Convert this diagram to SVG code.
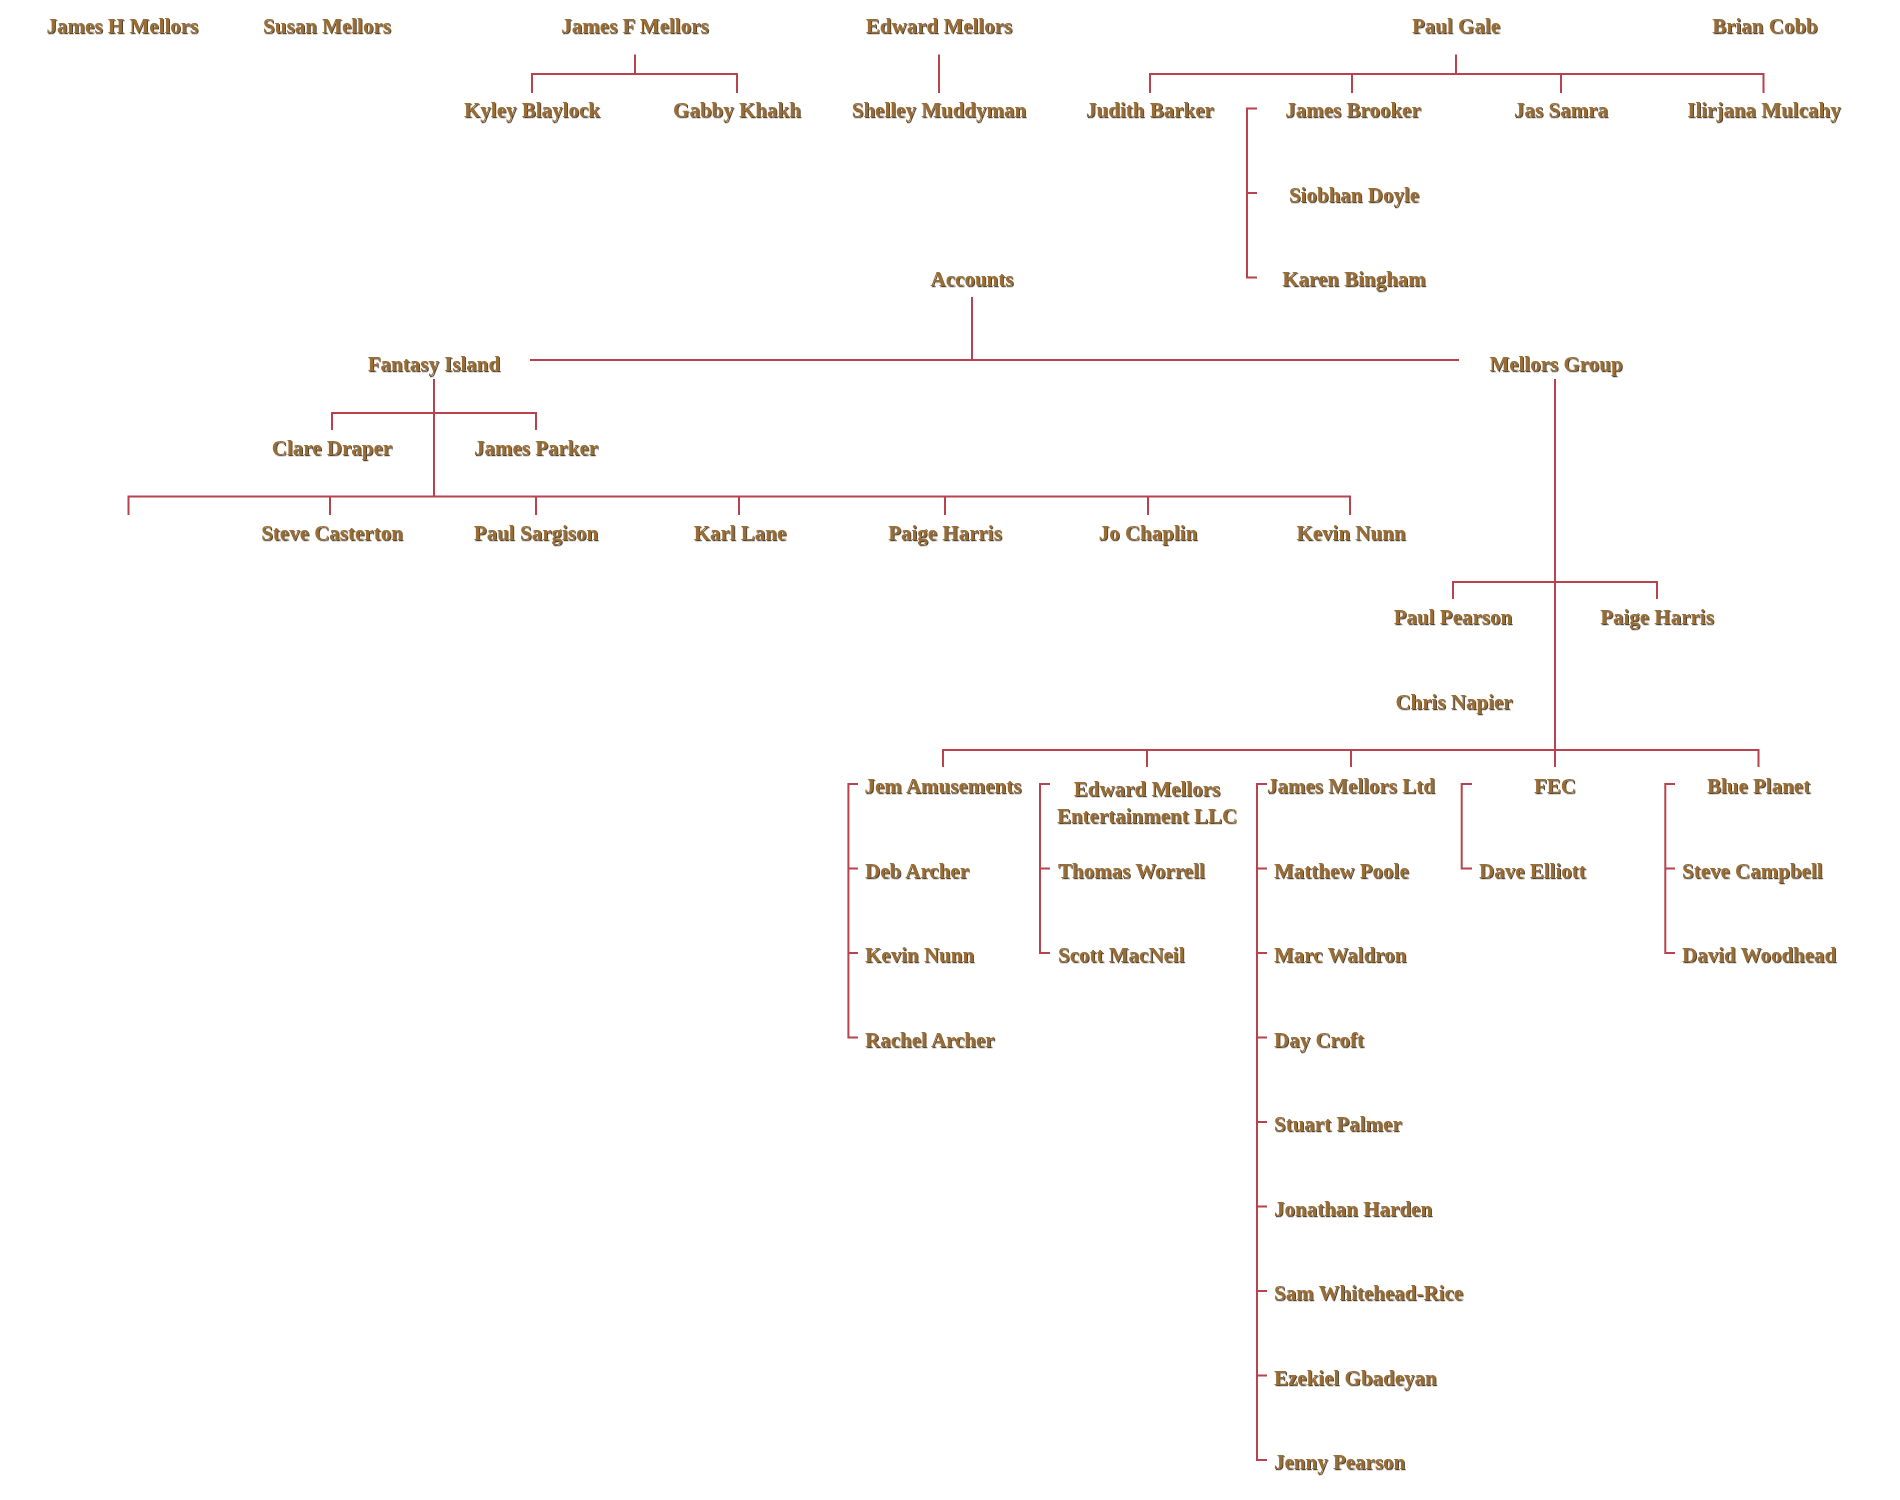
<svg xmlns="http://www.w3.org/2000/svg" width="1900" height="1500" viewBox="0 0 1900 1500">
<style>
.t{font-family:"Liberation Serif","Times New Roman",serif;font-weight:bold;font-size:21px;fill:#9a6d36;filter:url(#sh);text-anchor:middle}
.s{text-anchor:start}
.l{fill:none;stroke:#b8434e;stroke-width:2}
</style>
<defs>
<filter id="sh" x="-5%" y="-20%" width="110%" height="140%">
<feDropShadow dx="1" dy="1.2" stdDeviation="0.4" flood-color="#2b1c0a" flood-opacity="0.85"/>
</filter>
</defs>
<rect width="1900" height="1500" fill="#ffffff"/>
<g id="connectors" class="l">
<path d="M635 54.5V74M532 93V74H737V93"/>
<path d="M939 54.5V93"/>
<path d="M1456 54.5V74M1150 93V74H1763.5V93M1352 74V93M1561 74V93"/>
<path d="M1257 108.5H1247V277.5H1257M1247 193H1257"/>
<path d="M972 297V360M530 360H1459"/>
<path d="M434 379V496.5M332 430V413H536V430"/>
<path d="M128.5 515V496.5H1350V515M330 496.5V515M536 496.5V515M739 496.5V515M945 496.5V515M1148 496.5V515"/>
<path d="M1555 379V767M1453 599V582H1657V599"/>
<path d="M943 767V750H1758.5V767M1147 750V767M1351 750V767"/>
<path d="M858 784H848.4V1037.5H858M848.4 868.5H858M848.4 953H858"/>
<path d="M1050 784H1040V953H1050M1040 868.5H1050"/>
<path d="M1267 784H1257V1460H1267M1257 868.5H1267M1257 953H1267M1257 1037.5H1267M1257 1122H1267M1257 1206.5H1267M1257 1291H1267M1257 1375.5H1267"/>
<path d="M1472 784H1461.7V868.5H1472"/>
<path d="M1675 784H1665.3V953H1675M1665.3 868.5H1675"/>
</g>
<g id="n-james-h-mellors"><text class="t" x="122.4" y="32.5">James H Mellors</text></g>
<g id="n-susan-mellors"><text class="t" x="327" y="32.5">Susan Mellors</text></g>
<g id="n-james-f-mellors"><text class="t" x="635" y="32.5">James F Mellors</text></g>
<g id="n-edward-mellors"><text class="t" x="939" y="32.5">Edward Mellors</text></g>
<g id="n-paul-gale"><text class="t" x="1456" y="32.5">Paul Gale</text></g>
<g id="n-brian-cobb"><text class="t" x="1765" y="32.5">Brian Cobb</text></g>
<g id="n-kyley-blaylock"><text class="t" x="532" y="117">Kyley Blaylock</text></g>
<g id="n-gabby-khakh"><text class="t" x="737" y="117">Gabby Khakh</text></g>
<g id="n-shelley-muddyman"><text class="t" x="939" y="117">Shelley Muddyman</text></g>
<g id="n-judith-barker"><text class="t" x="1150" y="117">Judith Barker</text></g>
<g id="n-james-brooker"><text class="t" x="1353" y="117">James Brooker</text></g>
<g id="n-jas-samra"><text class="t" x="1561" y="117">Jas Samra</text></g>
<g id="n-ilirjana-mulcahy"><text class="t" x="1764" y="117">Ilirjana Mulcahy</text></g>
<g id="n-siobhan-doyle"><text class="t" x="1354" y="201.5">Siobhan Doyle</text></g>
<g id="n-karen-bingham"><text class="t" x="1354" y="286">Karen Bingham</text></g>
<g id="n-accounts"><text class="t" x="972" y="286">Accounts</text></g>
<g id="n-fantasy-island"><text class="t" x="434" y="370.5">Fantasy Island</text></g>
<g id="n-mellors-group"><text class="t" x="1556" y="370.5">Mellors Group</text></g>
<g id="n-clare-draper"><text class="t" x="332" y="455">Clare Draper</text></g>
<g id="n-james-parker"><text class="t" x="536" y="455">James Parker</text></g>
<g id="n-steve-casterton"><text class="t" x="332" y="539.5">Steve Casterton</text></g>
<g id="n-paul-sargison"><text class="t" x="536" y="539.5">Paul Sargison</text></g>
<g id="n-karl-lane"><text class="t" x="740" y="539.5">Karl Lane</text></g>
<g id="n-paige-harris-fi"><text class="t" x="945" y="539.5">Paige Harris</text></g>
<g id="n-jo-chaplin"><text class="t" x="1148" y="539.5">Jo Chaplin</text></g>
<g id="n-kevin-nunn-fi"><text class="t" x="1351" y="539.5">Kevin Nunn</text></g>
<g id="n-paul-pearson"><text class="t" x="1453" y="624">Paul Pearson</text></g>
<g id="n-paige-harris-mg"><text class="t" x="1657" y="624">Paige Harris</text></g>
<g id="n-chris-napier"><text class="t" x="1454" y="708.5">Chris Napier</text></g>
<g id="n-jem-amusements"><text class="t" x="943" y="793">Jem Amusements</text></g>
<g id="n-edward-mellors-ent"><text class="t" x="1147" y="796">Edward Mellors</text><text class="t" x="1147" y="823">Entertainment LLC</text></g>
<g id="n-james-mellors-ltd"><text class="t" x="1351" y="793">James Mellors Ltd</text></g>
<g id="n-fec"><text class="t" x="1555" y="793">FEC</text></g>
<g id="n-blue-planet"><text class="t" x="1758.5" y="793">Blue Planet</text></g>
<g id="n-deb-archer"><text class="t s" x="865" y="877.5">Deb Archer</text></g>
<g id="n-kevin-nunn-jem"><text class="t s" x="865" y="962">Kevin Nunn</text></g>
<g id="n-rachel-archer"><text class="t s" x="865" y="1046.5">Rachel Archer</text></g>
<g id="n-thomas-worrell"><text class="t s" x="1058" y="877.5">Thomas Worrell</text></g>
<g id="n-scott-macneil"><text class="t s" x="1058" y="962">Scott MacNeil</text></g>
<g id="n-matthew-poole"><text class="t s" x="1274" y="877.5">Matthew Poole</text></g>
<g id="n-marc-waldron"><text class="t s" x="1274" y="962">Marc Waldron</text></g>
<g id="n-day-croft"><text class="t s" x="1274" y="1046.5">Day Croft</text></g>
<g id="n-stuart-palmer"><text class="t s" x="1274" y="1131">Stuart Palmer</text></g>
<g id="n-jonathan-harden"><text class="t s" x="1274" y="1215.5">Jonathan Harden</text></g>
<g id="n-sam-whitehead-rice"><text class="t s" x="1274" y="1300">Sam Whitehead-Rice</text></g>
<g id="n-ezekiel-gbadeyan"><text class="t s" x="1274" y="1384.5">Ezekiel Gbadeyan</text></g>
<g id="n-jenny-pearson"><text class="t s" x="1274" y="1469">Jenny Pearson</text></g>
<g id="n-dave-elliott"><text class="t s" x="1479" y="877.5">Dave Elliott</text></g>
<g id="n-steve-campbell"><text class="t s" x="1682" y="877.5">Steve Campbell</text></g>
<g id="n-david-woodhead"><text class="t s" x="1682" y="962">David Woodhead</text></g>
</svg>
